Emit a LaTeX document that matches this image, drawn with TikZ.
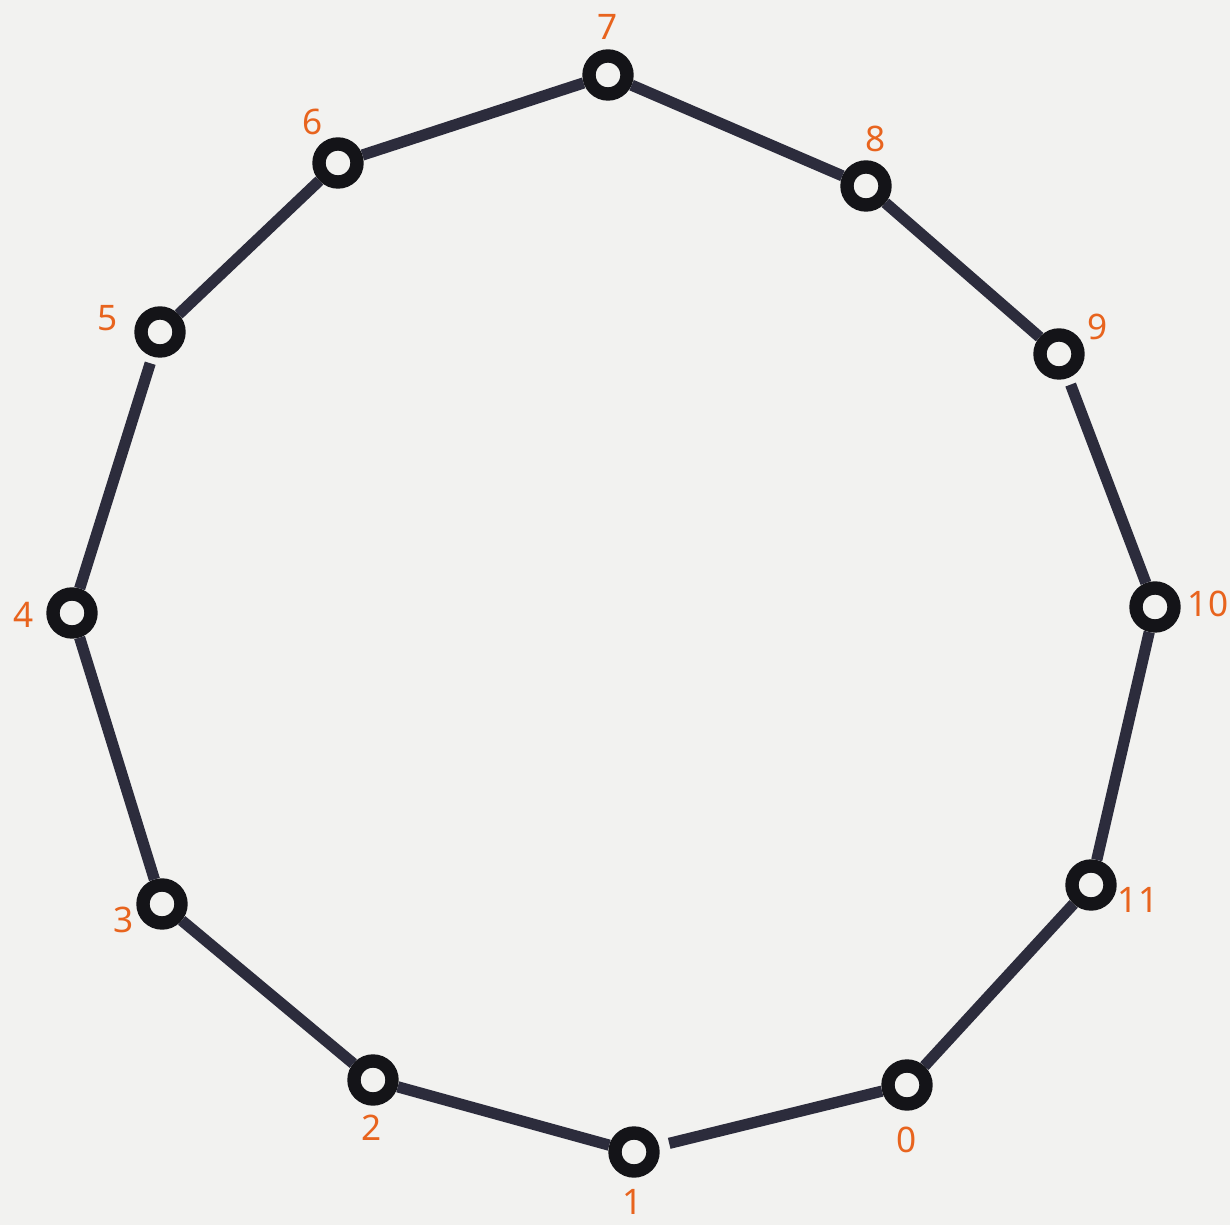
\documentclass[tikz,border=0pt]{standalone}
\usepackage{fontspec}
\setmainfont{Noto Sans}
\definecolor{bg}{HTML}{F2F2F0}
\definecolor{ringc}{HTML}{141418}
\definecolor{barc}{HTML}{2C2C3C}
\definecolor{lab}{HTML}{E8641E}
\begin{document}
\begin{tikzpicture}[x=0.01cm,y=-0.01cm,
  ring/.style={circle,draw=ringc,line width=3.8pt,fill=bg,minimum size=0.38cm,inner sep=0pt},
  bar/.style={draw=barc,line width=3.2pt},
  num/.style={text=lab,font=\fontsize{10}{11}\selectfont,inner sep=0pt}]
\fill[bg] (0,0) rectangle (1230,1225);
\useasboundingbox (0,0) rectangle (1230,1225);
% rings
\node[ring] (r0) at (907,1085) {};
\node[ring] (r1) at (634,1152) {};
\node[ring] (r2) at (373,1080) {};
\node[ring] (r3) at (162,904) {};
\node[ring] (r4) at (72,613) {};
\node[ring] (r5) at (160,332) {};
\node[ring] (r6) at (338,163) {};
\node[ring] (r7) at (608,75) {};
\node[ring] (r8) at (866,186) {};
\node[ring] (r9) at (1059,354) {};
\node[ring] (r10) at (1155,607) {};
\node[ring] (r11) at (1091,885) {};
% labels
\node[num] (l0) at (907,1140) {0};
\node[num] (l1) at (633,1202) {1};
\node[num] (l2) at (372,1128) {2};
\node[num] (l3) at (124,920) {3};
\node[num] (l4) at (24,615) {4};
\node[num] (l5) at (108,318) {5};
\node[num] (l6) at (313,122) {6};
\node[num] (l7) at (608,27) {7};
\node[num] (l8) at (876,139) {8};
\node[num] (l9) at (1098,327) {9};
\node[num] (l10) at (1208,604) {10};
\node[num] (l11) at (1138,900) {11};
% bars
\draw[bar,shorten <=3pt] (r1) -- (r0);
\draw[bar] (r1) -- (r2);
\draw[bar] (r2) -- (r3);
\draw[bar] (r3) -- (r4);
\draw[bar,shorten >=2pt] (r4) -- (r5);
\draw[bar] (r5) -- (r6);
\draw[bar] (r6) -- (r7);
\draw[bar] (r7) -- (r8);
\draw[bar] (r8) -- (r9);
\draw[bar,shorten <=2pt] (r9) -- (r10);
\draw[bar] (r10) -- (r11);
\draw[bar] (r11) -- (r0);
\end{tikzpicture}
\end{document}
